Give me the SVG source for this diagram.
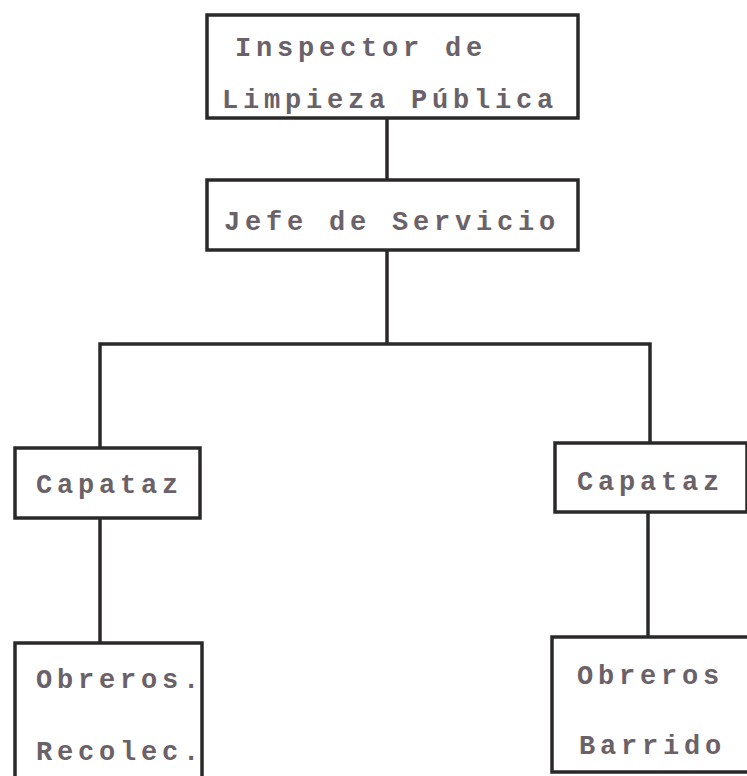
<svg xmlns="http://www.w3.org/2000/svg" width="747" height="776" viewBox="0 0 747 776">
<style>
.box{fill:#ffffff;stroke:#2b2828;stroke-width:3.5}
.ln{fill:none;stroke:#2b2828;stroke-width:3.5}
text{font-family:"Liberation Mono","DejaVu Sans Mono",monospace;font-size:27px;font-weight:bold;fill:#6a6268;letter-spacing:4.8px}
</style>
<rect width="747" height="776" fill="#ffffff"/>
<g id="connectors">
<line class="ln" x1="387" y1="118" x2="387" y2="180"/>
<polyline class="ln" points="387,250 387,344"/>
<polyline class="ln" points="100,448 100,344 650,344 650,443"/>
<line class="ln" x1="100" y1="518" x2="100" y2="643"/>
<line class="ln" x1="648" y1="512" x2="648" y2="637"/>
</g>
<g id="inspector">
<rect class="box" x="207" y="15" width="371" height="103"/>
<text x="235" y="56">Inspector de</text>
<text x="222" y="108">Limpieza Pública</text>
</g>
<g id="jefe">
<rect class="box" x="207" y="180" width="371" height="70"/>
<text x="224" y="230">Jefe de Servicio</text>
</g>
<g id="capataz-left">
<rect class="box" x="15" y="448" width="185" height="70"/>
<text x="36" y="493">Capataz</text>
</g>
<g id="capataz-right">
<rect class="box" x="555" y="443" width="192" height="69"/>
<text x="577" y="490">Capataz</text>
</g>
<g id="obreros-recolec">
<rect class="box" x="15" y="643" width="187" height="140"/>
<text x="36" y="688">Obreros.</text>
<text x="36" y="760">Recolec.</text>
</g>
<g id="obreros-barrido">
<rect class="box" x="552" y="637" width="200" height="135"/>
<text x="577" y="684">Obreros</text>
<text x="579" y="754">Barrido</text>
</g>
</svg>
